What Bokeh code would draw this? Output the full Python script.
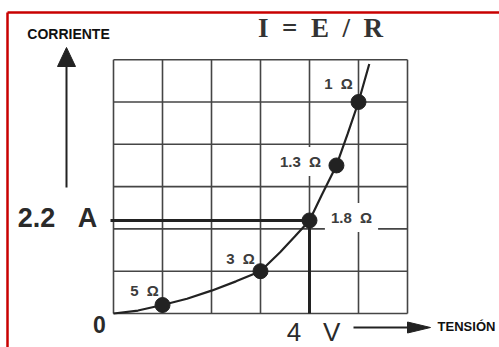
from bokeh.plotting import figure
from bokeh.core.properties import value
from bokeh.embed import file_html
from bokeh.resources import INLINE

# ---- data: voltage (V) against current (A) ----
grid_volts = [0, 1, 2, 3, 4, 5, 6]
grid_amps = [0, 1, 2, 3, 4, 5, 6]

curve_volts = [0.0, 0.5, 1.0, 1.5, 2.0, 2.5, 3.0, 3.4, 3.7, 4.0, 4.25, 4.55, 4.78, 5.0, 5.22]
curve_amps = [0.0, 0.07, 0.2, 0.35, 0.54, 0.76, 1.0, 1.45, 1.82, 2.2, 2.8, 3.5, 4.25, 5.0, 5.9]

point_volts = [1, 3, 4, 4.55, 5]
point_amps = [0.2, 1.0, 2.2, 3.5, 5.0]
point_labels = ["5 Ω", "3 Ω", "1.8 Ω", "1.3 Ω", "1 Ω"]

readout_volts = 4
readout_amps = 2.2

# ---- page layout (pixels) ----
W, H = 499, 347
X0, SX = 113, 49.0     # pixel of 0 V, pixels per volt
Y0, SY = 313, 42.3     # pixel of 0 A, pixels per amp


def dx(px):
    return (px - X0) / SX


def dy(py):
    return (Y0 - py) / SY


p = figure(width=W, height=H, x_range=(dx(0), dx(W)), y_range=(dy(H), dy(0)),
           x_axis_type=None, y_axis_type=None, min_border=0,
           toolbar_location=None, output_backend="svg")
p.outline_line_color = None
p.background_fill_color = "white"
p.border_fill_color = "white"

INK = "#222222"
GRID = "#454545"
NBSP = "\u00a0"

# red frame (top and left edges)
p.segment(x0=[dx(7), dx(7)], y0=[dy(12), dy(12)], x1=[dx(7), dx(W + 20)], y1=[dy(H + 20), dy(12)],
          line_color="#c80000", line_width=2.5)

# grid
top_v, top_i = grid_volts[-1], grid_amps[-1]
p.segment(x0=grid_volts, y0=[0] * len(grid_volts), x1=grid_volts, y1=[top_i] * len(grid_volts),
          line_color=GRID, line_width=1.6)
p.segment(x0=[0] * len(grid_amps), y0=grid_amps, x1=[top_v] * len(grid_amps), y1=grid_amps,
          line_color=GRID, line_width=1.6)

# readout lines for 4 V / 2.2 A
p.line([dx(110), readout_volts], [readout_amps, readout_amps], line_color=INK, line_width=3)
p.line([readout_volts, readout_volts], [readout_amps, 0], line_color=INK, line_width=3)

# characteristic curve and marked resistances
p.line(curve_volts, curve_amps, line_color=INK, line_width=2.2)
p.scatter(point_volts, point_amps, size=15, color=INK)

# resistance labels
lab_px = [(144, 290), (240, 258), (351, 217), (300, 161), (338, 83)]
for (lx, ly), txt in zip(lab_px, point_labels):
    bg = "white" if txt in ("1.8 Ω", "1.3 Ω") else None
    p.text(x=[dx(lx)], y=[dy(ly)], text=[txt.replace(" ", NBSP * 2)],
           text_font=value("Liberation Sans"), text_font_style="bold",
           text_font_size="15px", text_color="#3c3c3c",
           text_align="center", text_baseline="middle",
           background_fill_color=bg, padding=6 if bg else 0)

# axis arrows
p.line([dx(66), dx(66)], [dy(187), dy(62)], line_color=INK, line_width=2)
p.patch([dx(66), dx(57), dx(75)], [dy(47), dy(66), dy(66)], color=INK)
p.line([dx(353), dx(410)], [dy(327), dy(327)], line_color=INK, line_width=2)
p.patch([dx(430), dx(407), dx(407)], [dy(327), dy(321.5), dy(332.5)], color=INK)

# texts
p.text(x=[dx(68)], y=[dy(33)], text=["CORRIENTE"], text_font=value("Liberation Sans"),
       text_font_style="bold", text_font_size="14px", text_color="#111111",
       text_align="center", text_baseline="middle")
p.text(x=[dx(466)], y=[dy(326)], text=["TENSIÓN"], text_font=value("Liberation Sans"),
       text_font_style="bold", text_font_size="13px", text_color="#111111",
       text_align="center", text_baseline="middle")
p.text(x=[dx(320)], y=[dy(27)], text=[NBSP.join(["I", "", "=", "", "E", "", "/", "", "R"])],
       text_font=value("Liberation Serif"), text_font_style="bold",
       text_font_size="27px", text_color="#333333",
       text_align="center", text_baseline="middle")
p.text(x=[dx(57)], y=[dy(217)], text=["2.2" + NBSP * 3 + "A"],
       text_font=value("Liberation Sans"), text_font_style="bold",
       text_font_size="27px", text_color="#2a2a2a",
       text_align="center", text_baseline="middle")
p.text(x=[dx(99)], y=[dy(324)], text=["0"],
       text_font=value("Liberation Sans"), text_font_style="bold",
       text_font_size="23px", text_color="#2a2a2a",
       text_align="center", text_baseline="middle")
p.text(x=[dx(313)], y=[dy(331)], text=["4" + NBSP * 3 + "V"],
       text_font=value("Liberation Sans"),
       text_font_size="26px", text_color="#2a2a2a",
       text_align="center", text_baseline="middle")

open("out.html", "w").write(file_html(p, INLINE))
